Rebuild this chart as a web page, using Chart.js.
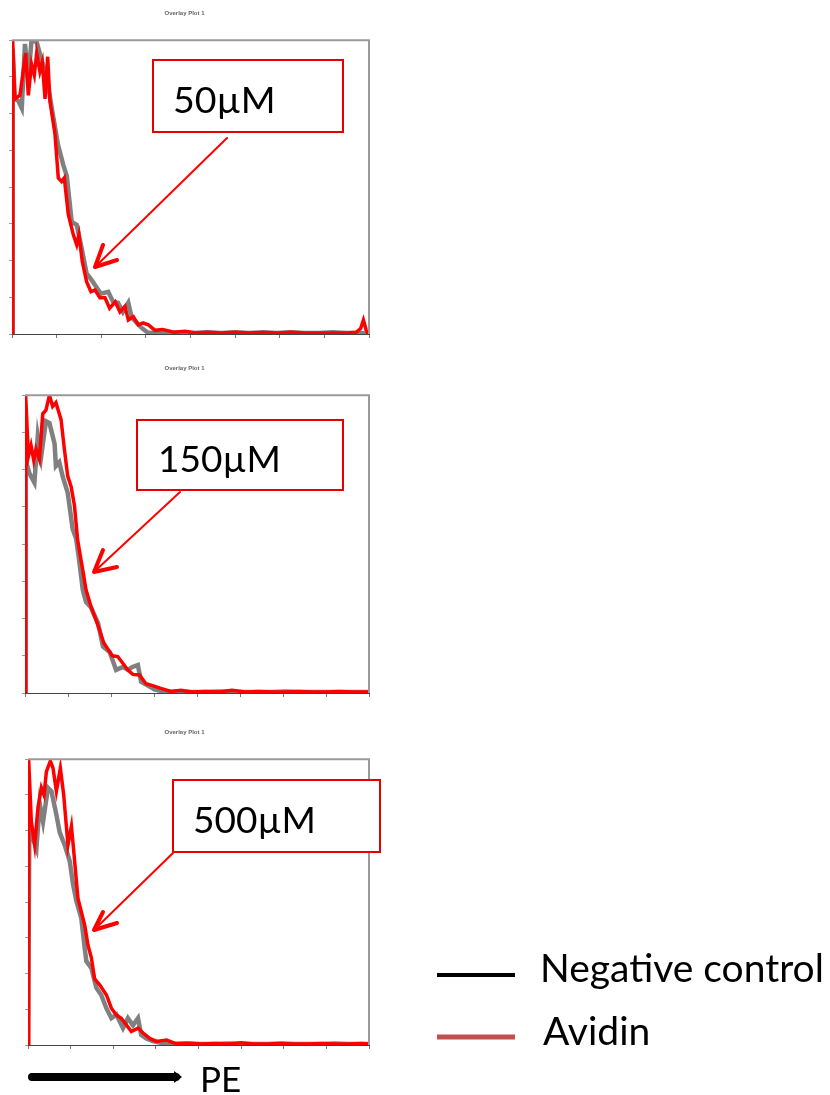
<!DOCTYPE html>
<html>
<head>
<meta charset="utf-8">
<script src="https://cdn.jsdelivr.net/npm/chart.js@4/dist/chart.umd.min.js"></script>
<style>
  body { margin: 0; background: #fff; width: 830px; height: 1095px; position: relative; overflow: hidden; }
  canvas { position: absolute; left: 0; }
  #overlay { position: absolute; left: 0; top: 0; }
  .lbl { font-family: Lato, "Open Sans", sans-serif; fill: #000; }
</style>
</head>
<body>
<canvas id="c1" width="380" height="345" style="top:0px"></canvas>
<canvas id="c2" width="380" height="349" style="top:355px"></canvas>
<canvas id="c3" width="380" height="337" style="top:719px"></canvas>

<svg id="overlay" width="830" height="1095">
  <!-- concentration labels -->
  <rect x="153" y="60" width="190" height="72" fill="#fff" stroke="#e60000" stroke-width="2"/>
  <text class="lbl" x="173" y="113" font-size="37.5">50µM</text>
  <rect x="137" y="420" width="206" height="70" fill="#fff" stroke="#e60000" stroke-width="2"/>
  <text class="lbl" x="158" y="472" font-size="37">150µM</text>
  <rect x="173" y="780" width="207" height="72" fill="#fff" stroke="#e60000" stroke-width="2"/>
  <text class="lbl" x="193" y="833" font-size="37">500µM</text>

  <!-- arrows from labels to curves -->
  <g stroke="#ff0000" fill="none" stroke-linecap="round" stroke-linejoin="round">
    <line x1="227" y1="138" x2="96" y2="266" stroke-width="2"/>
    <polyline points="103,245 95,267 117,260" stroke-width="4"/>
    <line x1="180" y1="492" x2="95" y2="571" stroke-width="2"/>
    <polyline points="103,550 94,572 117,567" stroke-width="4"/>
    <line x1="173" y1="853" x2="95" y2="929" stroke-width="2"/>
    <polyline points="103,912 94,930 117,923" stroke-width="4"/>
  </g>

  <!-- PE axis arrow -->
  <line x1="32" y1="1077" x2="176" y2="1077" stroke="#000" stroke-width="8" stroke-linecap="round"/>
  <polygon points="174,1071 182,1077 174,1083" fill="#000"/>
  <text class="lbl" x="200" y="1092" font-size="35">PE</text>

  <!-- legend -->
  <line x1="437" y1="975" x2="515" y2="975" stroke="#000" stroke-width="4"/>
  <text class="lbl" x="540" y="982" font-size="39">Negative control</text>
  <line x1="437" y1="1037" x2="515" y2="1037" stroke="#c0504d" stroke-width="5"/>
  <text class="lbl" x="543" y="1045" font-size="39">Avidin</text>
</svg>

<script>
// PE channel (x) and event counts (y)

// 50 µM
const p1NegX = [0, 0.5, 2, 4.5, 7, 9.3, 11.7, 14, 17.7, 21.3, 24.9, 28.5, 33, 36.8, 39.3, 42.8, 46.4, 49.6, 53.5, 57, 63.6, 69, 72.5, 76, 79.5, 83.4, 85.8, 93, 97.8, 104, 112, 120, 130, 140, 150, 160, 170, 180, 190, 200, 210, 220, 230, 240, 250, 256];
const p1NegY = [0, 155, 128, 127, 123, 158, 139, 160, 159, 149, 140, 123, 103, 92, 86, 61, 59.5, 48, 33, 29.5, 22, 23, 17.5, 17, 12, 17, 9, 3.3, 0.5, 1, 0.5, 0.8, 0.5, 1, 0.5, 1, 0.5, 1, 0.5, 1, 0.5, 0.5, 1, 0.5, 0.5, 0];
const p1AvX = [0, 0.5, 2, 5.7, 9.8, 11.7, 14, 16, 17.7, 20, 21.7, 23.7, 25.6, 27.2, 30.8, 33.2, 35.6, 37.5, 40.4, 44, 46.4, 48, 50.4, 53.5, 56.6, 59.5, 63, 66.7, 70, 74, 77.4, 81, 83.4, 87, 90.6, 94, 97.8, 102.6, 108, 116, 124, 132, 140, 150, 160, 170, 180, 190, 200, 210, 220, 230, 240, 247, 250, 252, 254, 255.5];
const p1AvY = [0, 160, 128, 130, 153, 130, 147, 141, 153, 143, 148, 128, 151, 127, 109, 85, 83, 85, 65, 54, 48.6, 54, 39.5, 28.5, 23, 24, 19.7, 19.7, 14, 17.5, 12, 15, 7.6, 9.4, 5, 6, 5, 2, 2.5, 1, 1.5, 0.5, 1, 0.5, 1, 0.5, 0.8, 0.5, 1, 0.5, 0.5, 0.5, 0.5, 1, 3, 7.6, 2, 0];

// 150 µM
const p2NegX = [0, 0.5, 3.3, 7, 9.5, 12, 15.6, 18.2, 22, 23, 25.5, 28, 31.8, 35.5, 38, 40, 43, 45.4, 49, 54.4, 58, 63, 67.8, 72.8, 76.5, 80, 84, 86.4, 91.4, 96.4, 104, 114, 124, 134, 144, 154, 164, 174, 184, 194, 204, 214, 224, 234, 244, 256];
const p2NegY = [0, 125, 118, 113, 138, 127, 146, 145, 134, 122, 124, 116.5, 107.5, 88, 83, 73, 55.5, 49, 46, 37.5, 25, 22, 12.4, 14, 12.4, 14, 15, 6, 4, 2, 0.5, 0.8, 0.5, 0.5, 0.8, 0.5, 0.5, 0.5, 0.5, 0.8, 0.5, 0.5, 0.5, 0.5, 0.5, 0.5];
const p2AvX = [0, 0.5, 2.5, 4.5, 6.5, 8.2, 10.7, 13.2, 15.6, 18.2, 20.6, 23, 26.8, 29.3, 31.8, 34.3, 36.8, 39.2, 43, 45.4, 49.1, 52.9, 55.4, 58.6, 61.3, 65, 69, 72.8, 76.5, 80.2, 85.2, 90, 95, 101, 108.6, 116, 124, 134, 144, 154, 164, 174, 184, 194, 204, 214, 224, 234, 244, 256];
const p2AvY = [0, 160, 127, 133, 125, 131, 125.5, 150, 152, 160, 154, 156, 147, 131, 116.5, 111, 100.7, 82, 66, 55.5, 46.5, 39, 34, 27, 24, 20, 19.6, 16, 12.4, 10, 9.7, 5, 4, 2.5, 0.8, 1.5, 0.5, 0.8, 0.5, 1.5, 0.5, 0.8, 0.5, 0.5, 0.8, 0.5, 0.5, 0.8, 0.5, 0.5];

// 500 µM
const p3NegX = [0, 1, 2.5, 6.3, 8.8, 11.3, 15, 17.6, 21.3, 23.8, 27.5, 31.3, 33.8, 36.3, 40, 42.6, 43.8, 47.6, 51.3, 55, 58.8, 62.6, 66.3, 71.3, 75, 78.8, 82.6, 85, 88.8, 93.8, 101, 110, 120, 130, 140, 150, 160, 170, 180, 190, 200, 210, 220, 230, 240, 250, 256];
const p3NegY = [0, 120, 118, 110, 135, 125, 144, 142, 129, 119, 112, 103, 90, 80.7, 71, 54, 47, 43, 32, 28, 20.6, 15, 17, 9.4, 15, 11, 15, 5.6, 3.7, 2.2, 1, 0.5, 0.8, 0.5, 0.5, 0.8, 0.5, 0.5, 0.5, 0.8, 0.5, 0.5, 0.5, 0.8, 0.5, 0.5, 0.5];
const p3AvX = [0, 0.5, 2.5, 5, 7.5, 10, 12, 13.8, 16.8, 18.8, 21.3, 24.3, 26.8, 30, 32.6, 34.4, 37.5, 42.6, 45, 47.6, 50, 53.8, 58.9, 62.6, 66.3, 70, 73.9, 77.6, 82.6, 86.4, 91.4, 96.4, 104, 111, 120, 130, 140, 150, 160, 170, 180, 190, 200, 210, 220, 230, 240, 250, 256];
const p3AvY = [0, 160, 125, 112, 133, 144, 140, 153, 159, 155, 142, 155, 140, 112, 122.5, 108, 82, 67, 56, 48.7, 37, 33.7, 28, 20.6, 16.8, 15, 11.2, 7.5, 9.4, 6.7, 3.7, 2, 2.8, 0.8, 1, 0.5, 0.8, 0.5, 1.2, 0.5, 0.5, 0.8, 0.5, 0.5, 0.8, 0.5, 0.5, 0.8, 0.5];

const xMax = 256, xStep = 32;
const yMax = 160, yStep = 20;

const toPoints = (xs, ys) => xs.map((x, i) => ({ x: x, y: ys[i] }));

// gray box on top and right of the plot
const frame = {
    id: 'frame',
    afterDraw(chart) {
        const { ctx, chartArea: a } = chart;
        ctx.save();
        ctx.strokeStyle = '#9a9a9a';
        ctx.lineWidth = 2;
        ctx.beginPath();
        ctx.moveTo(a.left, a.top);
        ctx.lineTo(a.right, a.top);
        ctx.lineTo(a.right, a.bottom);
        ctx.stroke();
        ctx.restore();
    }
};

function makePanel(id, yAxisWidth, negX, negY, avX, avY) {
    return new Chart(document.getElementById(id), {
        type: 'line',
        data: {
            datasets: [
                {
                    label: 'Avidin',
                    data: toPoints(avX, avY),
                    borderColor: '#ff0000',
                    borderWidth: 3.5,
                    pointRadius: 0,
                    tension: 0,
                },
                {
                    label: 'Negative control',
                    data: toPoints(negX, negY),
                    borderColor: '#808080',
                    borderWidth: 4.5,
                    pointRadius: 0,
                    tension: 0,
                },
            ],
        },
        options: {
            responsive: false,
            animation: false,
            devicePixelRatio: 1,
            layout: { padding: { left: 0, right: 11, top: 0, bottom: 0 } },
            plugins: {
                legend: { display: false },
                tooltip: { enabled: false },
                title: {
                    display: true,
                    text: 'Overlay Plot 1',
                    color: '#666',
                    font: { family: 'Liberation Sans', size: 6 },
                    padding: { top: 10, bottom: 23 },
                },
            },
            scales: {
                x: {
                    type: 'linear',
                    min: 0,
                    max: xMax,
                    ticks: { display: false, stepSize: xStep },
                    grid: { drawOnChartArea: false, tickLength: 4, color: '#777' },
                    border: { color: '#444', width: 1 },
                    afterFit: s => { s.height = 11; },
                },
                y: {
                    min: 0,
                    max: yMax,
                    ticks: { display: false, stepSize: yStep },
                    grid: { drawOnChartArea: false, tickLength: 3, color: '#999' },
                    border: { color: '#444', width: 1 },
                    afterFit: s => { s.width = yAxisWidth; },
                },
            },
        },
        plugins: [frame],
    });
}

makePanel('c1', 12, p1NegX, p1NegY, p1AvX, p1AvY);
makePanel('c2', 25, p2NegX, p2NegY, p2AvX, p2AvY);
makePanel('c3', 28, p3NegX, p3NegY, p3AvX, p3AvY);
</script>
</body>
</html>
